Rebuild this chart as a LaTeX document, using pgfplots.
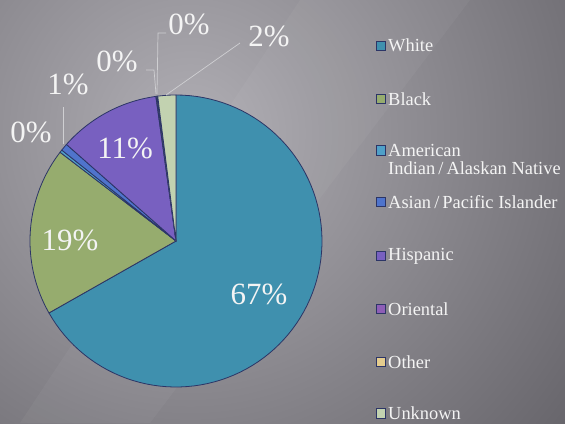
\documentclass[border=0pt]{standalone}
\usepackage{pgfplots}
\pgfplotsset{compat=1.18}
\usepackage{fontspec}
\setmainfont{Liberation Serif}
\definecolor{cWhite}{HTML}{3F90AE}
\definecolor{cBlack}{HTML}{96AC6E}
\definecolor{cAmer}{HTML}{4FA0C8}
\definecolor{cAsian}{HTML}{4F74CC}
\definecolor{cHisp}{HTML}{7860C0}
\definecolor{cOrient}{HTML}{8E5EB6}
\definecolor{cOther}{HTML}{E4CC8E}
\definecolor{cUnk}{HTML}{C2D2B0}
\definecolor{cEdge}{HTML}{2C3566}
\definecolor{bgL}{HTML}{B0AEB4}
\definecolor{bgD}{HTML}{646268}
\definecolor{lead}{HTML}{CFCFD2}
\definecolor{txt}{HTML}{F4F4F4}
\newcommand{\slice}[3]{%
  \addplot[draw=cEdge, line width=0.8bp, fill=#3, domain=#1:#2, samples=90, variable=\t]
    ({176+146*sin(3.6*\t)},{182+146*cos(3.6*\t)}) -- (axis cs:176,182) -- cycle;}
\newcommand{\legitem}[3]{%
  \filldraw[fill=#2, draw=cEdge, line width=0.8bp] (axis cs:376,#1-4.7) rectangle (axis cs:385.5,#1+4.7);
  \node[text=txt, font=\fontsize{18.5}{21}\selectfont, inner sep=0pt, anchor=west] at (axis cs:388,#1) {#3};}
\begin{document}
\begin{tikzpicture}[x=1bp,y=1bp]
\begin{scope}
\clip (0,0) rectangle (565,423);
\fill[bgD] (0,0) rectangle (565,423);
\shade[inner color=bgL, outer color=bgD] (190,290) circle (500);
\fill[white, opacity=0.04] (300,423) -- (470,423) -- (150,0) -- (20,0) -- cycle;
\end{scope}
\begin{axis}[at={(0,0)}, anchor=south west, scale only axis,
  width=565bp, height=423bp, xmin=0, xmax=565, ymin=0, ymax=423,
  hide axis, clip=false]
% percentages, clockwise from 12 o'clock
% White 66.8, Black 18.6, American Indian 0.3, Asian 0.8, Hispanic 11.3, Oriental 0.1, Other 0.1, Unknown 2.0
\slice{0}{66.8}{cWhite}
\slice{66.8}{85.4}{cBlack}
\slice{85.4}{85.7}{cAmer}
\slice{85.7}{86.5}{cAsian}
\slice{86.5}{97.8}{cHisp}
\slice{97.8}{97.9}{cOrient}
\slice{97.9}{98.0}{cOther}
\slice{98.0}{100}{cUnk}
% leader lines
\draw[lead, line width=0.7bp] (axis cs:63,316) -- (axis cs:63,279);
\draw[lead, line width=0.7bp] (axis cs:146,353) -- (axis cs:154,353) -- (axis cs:156,329);
\draw[lead, line width=0.7bp] (axis cs:166,390) -- (axis cs:158,390) -- (axis cs:157,329);
\draw[lead, line width=0.7bp] (axis cs:240,380) -- (axis cs:166,328);
% data labels
\begin{scope}[every node/.style={text=txt, font=\fontsize{31}{36}\selectfont, inner sep=0pt}]
\node at (axis cs:259,129) {67\%};
\node at (axis cs:70,183) {19\%};
\node at (axis cs:125,275) {11\%};
\node at (axis cs:31,291) {0\%};
\node at (axis cs:68,339) {1\%};
\node at (axis cs:117,362) {0\%};
\node at (axis cs:189,399) {0\%};
\node at (axis cs:269,387) {2\%};
\end{scope}
% legend
\legitem{377.3}{cWhite}{White}
\legitem{324}{cBlack}{Black}
\legitem{272.5}{cAmer}{American}
\node[text=txt, font=\fontsize{18.5}{21}\selectfont, inner sep=0pt, anchor=west] at (axis cs:388,255) {Indian\,/\,Alaskan Native};
\legitem{221}{cAsian}{Asian\,/\,Pacific Islander}
\legitem{167}{cHisp}{Hispanic}
\legitem{114}{cOrient}{Oriental}
\legitem{61}{cOther}{Other}
\legitem{9.5}{cUnk}{Unknown}
\end{axis}
\end{tikzpicture}
\end{document}
